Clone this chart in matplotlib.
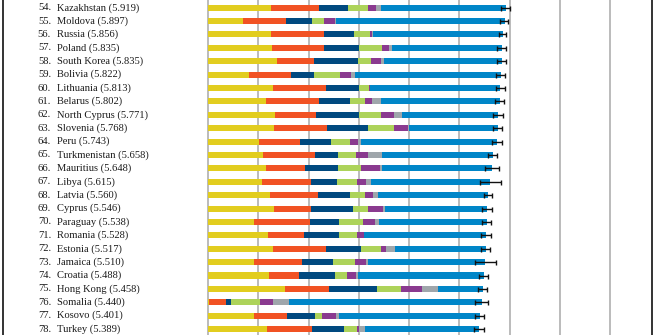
import numpy as np
import matplotlib
matplotlib.use("Agg")
import matplotlib.pyplot as plt

# ranks, names and happiness scores
ranks = list(range(54, 79))
countries = ["Kazakhstan", "Moldova", "Russia", "Poland", "South Korea", "Bolivia",
             "Lithuania", "Belarus", "North Cyprus", "Slovenia", "Peru", "Turkmenistan",
             "Mauritius", "Libya", "Latvia", "Cyprus", "Paraguay", "Romania", "Estonia",
             "Jamaica", "Croatia", "Hong Kong", "Somalia", "Kosovo", "Turkey"]
scores = [5.919, 5.897, 5.856, 5.835, 5.835, 5.822, 5.813, 5.802, 5.771, 5.768,
          5.743, 5.658, 5.648, 5.615, 5.560, 5.546, 5.538, 5.528, 5.517, 5.510,
          5.488, 5.458, 5.440, 5.401, 5.389]

# explained components
gdp = [1.252, 0.696, 1.252, 1.272, 1.372, 0.815, 1.292, 1.153, 1.332, 1.312,
       1.014, 1.093, 1.153, 1.074, 1.233, 1.312, 0.915, 1.193, 1.292, 0.915,
       1.213, 1.531, 0.020, 0.915, 1.173]
social = [0.954, 0.855, 1.054, 1.034, 0.736, 0.835, 1.054, 1.054, 0.815, 1.054,
          0.815, 1.034, 0.775, 0.974, 0.954, 0.736, 1.113, 0.716, 1.054, 0.954,
          0.596, 0.875, 0.338, 0.656, 0.895]
health = [0.577, 0.517, 0.596, 0.696, 0.875, 0.457, 0.656, 0.616, 0.855, 0.815,
          0.616, 0.457, 0.656, 0.517, 0.636, 0.835, 0.577, 0.696, 0.696, 0.616,
          0.716, 0.954, 0.099, 0.557, 0.636]
freedom = [0.391, 0.239, 0.318, 0.457, 0.258, 0.517, 0.199, 0.298, 0.437, 0.517,
           0.378, 0.358, 0.457, 0.398, 0.298, 0.298, 0.477, 0.358, 0.398, 0.437,
           0.239, 0.477, 0.577, 0.139, 0.258]
generosity = [0.166, 0.219, 0.040, 0.139, 0.199, 0.219, 0.013, 0.139, 0.258, 0.278,
              0.159, 0.239, 0.378, 0.179, 0.159, 0.298, 0.239, 0.139, 0.099, 0.219,
              0.179, 0.417, 0.258, 0.278, 0.040]
corruption = [0.099, 0.010, 0.020, 0.060, 0.060, 0.080, 0.005, 0.179, 0.159, 0.020,
              0.060, 0.278, 0.040, 0.099, 0.099, 0.040, 0.080, 0.005, 0.179, 0.040,
              0.040, 0.318, 0.318, 0.060, 0.119]

# 95% confidence interval ends
ci_low = [5.832, 5.812, 5.779, 5.739, 5.746, 5.732, 5.732, 5.713, 5.666, 5.673,
          5.640, 5.574, 5.508, 5.408, 5.481, 5.441, 5.454, 5.421, 5.434, 5.315,
          5.394, 5.361, 5.315, 5.302, 5.295]
ci_high = [5.997, 5.971, 5.931, 5.925, 5.925, 5.911, 5.898, 5.885, 5.872, 5.852,
           5.839, 5.739, 5.792, 5.825, 5.640, 5.653, 5.633, 5.633, 5.600, 5.719,
           5.574, 5.554, 5.567, 5.494, 5.481]

parts = [gdp, social, health, freedom, generosity, corruption]
colors = ['#e2cd1f', '#f15223', '#00497f', '#add35a', '#8a3a8f', '#9fa6ab', '#0086c8']

scores = np.array(scores)
parts = [np.array(p) for p in parts]
dystopia = scores - sum(parts)
segments = parts + [dystopia]

fig = plt.figure(figsize=(6.56, 3.35), dpi=100)
ax = fig.add_axes([3 / 656, 0, 649 / 656, 1])

y = np.arange(len(countries))
left = np.zeros(len(countries))
for seg, col in zip(segments, colors):
    ax.barh(y, seg, left=left, height=0.45, color=col, linewidth=0, zorder=2)
    left += seg

err = [scores - np.array(ci_low), np.array(ci_high) - scores]
ax.errorbar(scores, y, xerr=err, fmt='none', ecolor='#111111', elinewidth=1.0,
            capsize=1.8, capthick=1.0, zorder=3)

for gx in range(0, 9):
    ax.axvline(gx, color='#a8a8a8', linewidth=1.1, zorder=1)

px = 50.3
ax.set_xlim(-205 / px, 444 / px)
ax.set_ylim((335 - 7.7) / 13.39, -7.7 / 13.39)

for i, (r, c, s) in enumerate(zip(ranks, countries, scores)):
    ax.text(-157 / px, i, f"{r}.", ha='right', va='center', fontsize=7.6,
            family='Liberation Serif', color='#1a1a1a')
    ax.text(-151 / px, i, f"{c} ({s:.3f})", ha='left', va='center', fontsize=7.6,
            family='Liberation Serif', color='#1a1a1a')

ax.set_xticks([])
ax.set_yticks([])
ax.spines['top'].set_visible(False)
ax.spines['bottom'].set_visible(False)
for side in ['left', 'right']:
    ax.spines[side].set_color('#111111')
    ax.spines[side].set_linewidth(1.2)

fig.savefig('out.png', dpi=100)
